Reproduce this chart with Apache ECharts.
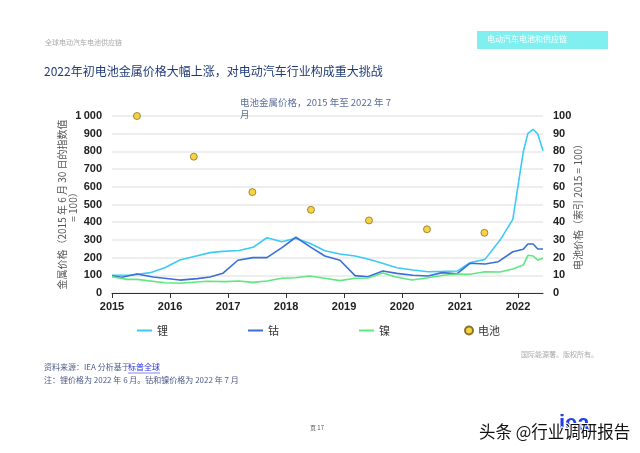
<!DOCTYPE html>
<html>
<head>
<meta charset="utf-8">
<script src="https://cdn.jsdelivr.net/npm/echarts@6/dist/echarts.min.js"></script>
<style>
  html, body { margin: 0; padding: 0; background: #fff; }
  #chart { width: 640px; height: 453px; }
</style>
</head>
<body>
<div id="chart"></div>
<script>
// 数据从图上读出，x 为小数年份
const liX = [2015.0, 2015.35, 2015.66, 2015.91, 2016.17, 2016.4, 2016.69, 2016.91, 2017.19, 2017.43, 2017.67, 2017.93, 2018.16, 2018.41, 2018.67, 2018.93, 2019.19, 2019.41, 2019.62, 2019.91, 2020.19, 2020.45, 2020.71, 2020.95, 2021.17, 2021.43, 2021.69, 2021.91, 2022.09, 2022.17, 2022.26, 2022.34, 2022.43];
const liY = [100, 102, 115, 143, 186, 205, 228, 235, 240, 258, 312, 290, 309, 281, 239, 220, 209, 192, 172, 143, 130, 120, 122, 124, 171, 190, 299, 416, 798, 902, 925, 898, 804];

const coX = [2015.0, 2015.17, 2015.43, 2015.71, 2016.17, 2016.47, 2016.69, 2016.91, 2017.17, 2017.43, 2017.67, 2017.93, 2018.17, 2018.41, 2018.67, 2018.93, 2019.19, 2019.41, 2019.67, 2019.91, 2020.19, 2020.45, 2020.69, 2020.95, 2021.17, 2021.43, 2021.66, 2021.91, 2022.09, 2022.17, 2022.26, 2022.34, 2022.43];
const coY = [96, 89, 107, 90, 73, 81, 90, 111, 185, 200, 200, 256, 315, 262, 209, 185, 98, 92, 124, 111, 100, 96, 115, 109, 168, 164, 177, 233, 247, 277, 277, 249, 249];

const niX = [2015.0, 2015.26, 2015.43, 2015.91, 2016.17, 2016.64, 2016.95, 2017.19, 2017.43, 2017.67, 2017.93, 2018.16, 2018.41, 2018.67, 2018.93, 2019.19, 2019.41, 2019.67, 2019.88, 2020.17, 2020.45, 2020.71, 2020.95, 2021.17, 2021.43, 2021.69, 2021.91, 2022.09, 2022.17, 2022.26, 2022.34, 2022.43];
const niY = [92, 77, 77, 58, 55, 66, 64, 68, 60, 68, 83, 86, 96, 83, 70, 83, 85, 113, 92, 73, 86, 100, 107, 106, 120, 119, 136, 158, 213, 209, 186, 196];

const batX = [2015.43, 2016.41, 2017.42, 2018.43, 2019.43, 2020.43, 2021.42];
const batY = [100, 77, 57, 47, 41, 36, 34];

const leftTicks = [0, 1000, 100];
const rightTicks = [0, 100, 10];

const zip = (xs, ys) => xs.map((x, i) => [x, ys[i]]);
const FONT = 'Liberation Sans, Noto Sans CJK SC, sans-serif';
const CJK = 'Noto Sans CJK SC, sans-serif';
const legendText = { fontFamily: CJK, fontSize: 11, color: '#333' };

const myChart = echarts.init(document.getElementById('chart'));
myChart.setOption({
  animation: false,
  textStyle: { fontFamily: FONT },
  title: [
    {
      text: '2022年初电池金属价格大幅上涨，对电动汽车行业构成重大挑战',
      left: 44, top: 65, padding: 0,
      textStyle: { fontFamily: CJK, fontSize: 12, fontWeight: 'normal', color: '#1f3a75' }
    },
    {
      text: '电池金属价格，2015 年至 2022 年 7\n月',
      left: 240, top: 96, padding: 0,
      textStyle: { fontFamily: CJK, fontSize: 9.5, fontWeight: 'normal', color: '#5b6f9c', lineHeight: 12 }
    }
  ],
  color: ['#3ccaf6', '#3a6fd6', '#5ee880', '#f5c518'],
  legend: [
    {
      left: 132, top: 320, padding: 5,
      itemWidth: 15, itemHeight: 2, itemGap: 80,
      icon: 'rect',
      textStyle: legendText,
      data: ['锂', '钴', '镍']
    },
    {
      left: 459, top: 320, padding: 5,
      itemWidth: 8, itemHeight: 8,
      icon: 'circle',
      textStyle: legendText,
      data: ['电池']
    }
  ],
  grid: { left: 112, right: 97, top: 116, bottom: 160 },
  xAxis: {
    type: 'value', min: 2015, max: 2022.43, interval: 1,
    axisLine: { lineStyle: { color: '#333', width: 1 } },
    axisTick: { show: true, length: 5, lineStyle: { color: '#333' } },
    splitLine: { show: false },
    axisLabel: { showMaxLabel: false, color: '#222', fontSize: 11, fontWeight: 'bold', margin: 8, formatter: v => String(Math.round(v)) }
  },
  yAxis: [
    {
      type: 'value', min: leftTicks[0], max: leftTicks[1], interval: leftTicks[2],
      name: '金属价格（2015 年 6 月 30 日的指数值\n= 100）',
      nameLocation: 'middle', nameRotate: 90, nameGap: 33, nameMoveOverlap: false,
      nameTextStyle: { fontFamily: CJK, fontSize: 10, color: '#555', lineHeight: 11 },
      axisLine: { show: false }, axisTick: { show: false },
      splitLine: { lineStyle: { color: '#e8e8e8', width: 1.5 } },
      axisLabel: { color: '#222', fontSize: 11, fontWeight: 'bold', margin: 10, formatter: v => v === 1000 ? '1\u2009000' : String(v) }
    },
    {
      type: 'value', min: rightTicks[0], max: rightTicks[1], interval: rightTicks[2],
      name: '电池价格（索引 2015 = 100）',
      nameLocation: 'middle', nameRotate: 90, nameGap: 30, nameMoveOverlap: false,
      nameTextStyle: { fontFamily: CJK, fontSize: 10, color: '#555' },
      axisLine: { show: false }, axisTick: { show: false },
      splitLine: { show: false },
      axisLabel: { color: '#222', fontSize: 11, fontWeight: 'bold', margin: 10 }
    }
  ],
  series: [
    { name: '锂', type: 'line', data: zip(liX, liY), showSymbol: false, lineStyle: { width: 1.6 } },
    { name: '钴', type: 'line', data: zip(coX, coY), showSymbol: false, lineStyle: { width: 1.6 } },
    { name: '镍', type: 'line', data: zip(niX, niY), showSymbol: false, lineStyle: { width: 1.6 } },
    {
      name: '电池', type: 'scatter', yAxisIndex: 1, data: zip(batX, batY),
      symbolSize: 7, itemStyle: { color: '#f5c518', borderColor: '#6b5a10', borderWidth: 0.8 }
    }
  ],
  graphic: [
    { type: 'text', left: 45, top: 39, style: { text: '全球电动汽车电池供应链', font: '7px ' + CJK, fill: '#aaa' } },
    { type: 'rect', shape: { x: 477, y: 31, width: 131, height: 18 }, style: { fill: '#80eff0' } },
    { type: 'text', left: 487, top: 35, style: { text: '电动汽车电池和供应链', font: '8px ' + CJK, fill: '#fff' } },
    { type: 'text', left: 521, top: 351, style: { text: '国际能源署。版权所有。', font: '7px ' + CJK, fill: '#aaa' } },
    { type: 'text', left: 44, top: 363, style: { text: '资料来源：IEA 分析基于', font: '8px ' + CJK, fill: '#4d5b88' } },
    { type: 'text', left: 128, top: 363, style: { text: '标普全球', font: '8px ' + CJK, fill: '#2b35e0' } },
    { type: 'line', shape: { x1: 128, y1: 373, x2: 160, y2: 373 }, style: { stroke: '#2b35e0', lineWidth: 0.6 } },
    { type: 'text', left: 44, top: 376, style: { text: '注：锂价格为 2022 年 6 月。钴和镍价格为 2022 年 7 月', font: '8px ' + CJK, fill: '#4d5b88' } },
    { type: 'text', left: 310, top: 425, style: { text: '页 17', font: '6px ' + CJK, fill: '#555' } },
    { type: 'text', left: 559, top: 413, style: { text: 'iea', font: 'bold 22px Liberation Sans', fill: '#2140ea' } },
    { type: 'text', left: 478, top: 422, style: { text: '头条 @行业调研报告', font: '16.5px ' + CJK, fill: '#111', stroke: '#fff', lineWidth: 2 } }
  ]
});
</script>
</body>
</html>
